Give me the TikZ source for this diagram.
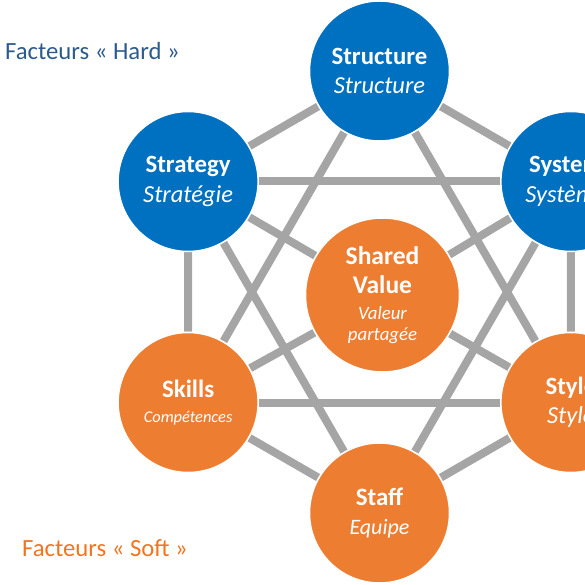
\documentclass[tikz,border=0pt]{standalone}
\usepackage{fontspec}
\setmainfont{Carlito}
\usepackage{xcolor}
\definecolor{hardblue}{HTML}{0070C0}
\definecolor{softorange}{HTML}{ED7D31}
\definecolor{linkgray}{HTML}{A5A5A5}
\definecolor{hardtext}{HTML}{2B5B8C}
\definecolor{softtext}{HTML}{F4731F}
\usetikzlibrary{positioning,backgrounds}

\begin{document}
\begin{tikzpicture}[
        x=1pt, y=1pt,
        hard/.style={circle, fill=hardblue, draw=white, line width=1.5pt, minimum size=140pt, inner sep=0pt, align=center, text=white, font=\fontsize{24.5}{29.5}\selectfont},
        soft/.style={hard, fill=softorange},
        link/.style={draw=linkgray, line width=8pt},
        factorlabel/.style={anchor=base west, inner sep=0pt, font=\fontsize{24.7}{28}\selectfont},
    ]
    \useasboundingbox (-379.5,-293) rectangle (205.5,292);

    % === Hard factors (blue) ===
    \node[hard] (structure) at (90:221) {{\bfseries\fontsize{24.8}{29.5}\selectfont Structure}\\\itshape Structure};
    \node[hard] (strategy) at (150:221) {{\bfseries\fontsize{24.8}{29.5}\selectfont Strategy}\\\itshape Stratégie};
    \node[hard] (systems) at (30:221) {{\bfseries\fontsize{24.8}{29.5}\selectfont Systems}\\\itshape Systèmes};

    % === Soft factors (orange) ===
    \node[soft, minimum size=154pt] (shared) at (3,-3) {
        {\bfseries\fontsize{25.5}{29}\selectfont Shared}\\
        {\bfseries\fontsize{25.5}{29}\selectfont Value}\\[-4pt]
        {\itshape\fontsize{18.8}{22}\selectfont Valeur}\\[-8pt]
        {\itshape\fontsize{18.8}{22}\selectfont partagée}
    };
    \node[soft] (skills) at (210:221) {{\bfseries\fontsize{25}{29}\selectfont Skills}\\[-5pt]{\itshape\fontsize{16.4}{20}\selectfont Compétences}};
    \node[soft] (staff) at (270:221) {{\bfseries\fontsize{25}{29}\selectfont Staff}\\{\itshape\fontsize{22}{24}\selectfont Equipe}};
    \node[soft] (style) at (330:221) {{\bfseries\fontsize{24.8}{29.5}\selectfont Style}\\\itshape Style};

    % === Links ===
    \begin{scope}[on background layer]
        \draw[link] (structure) -- (strategy) -- (skills) -- (staff) -- (style) -- (systems) -- (structure);
        \draw[link] (strategy) -- (systems);
        \draw[link] (skills) -- (style);
        \draw[link] (structure) -- (skills);
        \draw[link] (structure) -- (style);
        \draw[link] (strategy) -- (staff);
        \draw[link] (systems) -- (staff);
        \draw[link] (shared) -- (strategy);
        \draw[link] (shared) -- (systems);
        \draw[link] (shared) -- (skills);
        \draw[link] (shared) -- (style);
    \end{scope}

    % === Labels ===
    \node[factorlabel, text=hardtext] (hardlabel) at (-374.5,232.7) {Facteurs « Hard »};
    \node[factorlabel, text=softtext] (softlabel) at (-357.5,-264) {Facteurs « Soft »};

\end{tikzpicture}
\end{document}
